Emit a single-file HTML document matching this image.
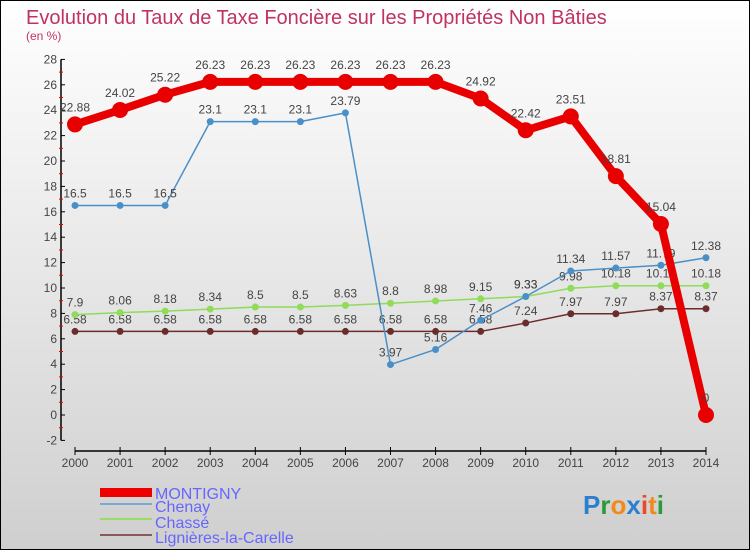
<!DOCTYPE html>
<html><head><meta charset="utf-8"><style>
body{margin:0;}
#c{width:750px;height:550px;position:relative;overflow:hidden;}
</style></head><body>
<div id="c">
<svg id="s" width="750" height="550" xmlns="http://www.w3.org/2000/svg" font-family="Liberation Sans, sans-serif">
<defs><linearGradient id="bg" x1="0" y1="0" x2="0" y2="1"><stop offset="0" stop-color="#ffffff"/><stop offset="1" stop-color="#cfcfcf"/></linearGradient></defs>
<rect x="0.5" y="0.5" width="749" height="549" fill="url(#bg)" stroke="#000"/>
<text x="26" y="24" font-size="20" fill="#c0335f">Evolution du Taux de Taxe Foncière sur les Propriétés Non Bâties</text>
<text x="26" y="40" font-size="12" fill="#c0335f">(en %)</text>
<g id="axes"></g>
<g id="series"></g>
<g>
<rect x="100" y="488" width="52" height="9" fill="#e00"/>
<text x="155" y="499" font-size="16" fill="#6666ff">MONTIGNY</text>
<rect x="100" y="503" width="52" height="2" fill="#7aa9d0"/>
<text x="155" y="512" font-size="16" fill="#6666ff">Chenay</text>
<rect x="100" y="518" width="52" height="2" fill="#99dd66"/>
<text x="155" y="528" font-size="16" fill="#6666ff">Chassé</text>
<rect x="100" y="534" width="52" height="2" fill="#8a5a5a"/>
<text x="155" y="543" font-size="16" fill="#6666ff">Lignières-la-Carelle</text>
</g>
<text x="583" y="514" font-size="26" font-weight="bold"><tspan fill="#2a7fd0">P</tspan><tspan fill="#2a9a3a">r</tspan><tspan fill="#f08a1a">o</tspan><tspan fill="#2a7fd0">x</tspan><tspan fill="#e84a2a">i</tspan><tspan fill="#f08a1a">t</tspan><tspan fill="#2a9a3a">i</tspan></text>
</svg>
</div>
<script>
const years=[2000,2001,2002,2003,2004,2005,2006,2007,2008,2009,2010,2011,2012,2013,2014];
const montigny=[22.88,24.02,25.22,26.23,26.23,26.23,26.23,26.23,26.23,24.92,22.42,23.51,18.81,15.04,0];
const chenay=[16.5,16.5,16.5,23.1,23.1,23.1,23.79,3.97,5.16,7.46,9.33,11.34,11.57,11.79,12.38];
const chasse=[7.9,8.06,8.18,8.34,8.5,8.5,8.63,8.8,8.98,9.15,9.33,9.98,10.18,10.18,10.18];
const lignieres=[6.58,6.58,6.58,6.58,6.58,6.58,6.58,6.58,6.58,6.58,7.24,7.97,7.97,8.37,8.37];
const yTicks=[-2,0,2,4,6,8,10,12,14,16,18,20,22,24,26,28];
const NS="http://www.w3.org/2000/svg";
function xs(i){return 75+i*(706-75)/(years.length-1);}
function ys(v){return 415-v*12.7;}
function mk(t,a,p){const e=document.createElementNS(NS,t);for(const k in a)e.setAttribute(k,a[k]);(p||document.getElementById('series')).appendChild(e);return e;}
const ax=document.getElementById('axes');
const yl=mk('line',{x1:61,y1:ys(28),x2:61,y2:ys(-2),stroke:'#000','stroke-width':1.5},ax);


yTicks.forEach(v=>{
 mk('line',{x1:61,y1:ys(v),x2:65,y2:ys(v),stroke:'#000'},ax);
 if(v<28) mk('line',{x1:59,y1:ys(v+1),x2:63,y2:ys(v+1),stroke:'#e00'},ax);
 const t=mk('text',{x:57,y:ys(v)+4,'font-size':12,fill:'#444','text-anchor':'end'},ax);t.textContent=v;
 
 
});
const xl=mk('line',{x1:75,y1:451,x2:706,y2:451,stroke:'#000','stroke-width':1.5},ax);


years.forEach((y,i)=>{
 mk('line',{x1:xs(i),y1:447,x2:xs(i),y2:455,stroke:'#000'},ax);
 const t=mk('text',{x:xs(i),y:467,'font-size':12,fill:'#444','text-anchor':'middle'},ax);t.textContent=y;
 
 
});
function series(d,name,color,w,r,lab){
 const g=mk('g',{});
 
 
 const p=mk('polyline',{points:d.map((v,i)=>xs(i)+','+ys(v)).join(' '),fill:'none',stroke:color,'stroke-width':w,'stroke-linejoin':'round'},g);
 
 
 d.forEach((v,i)=>{
  const c=mk('circle',{cx:xs(i),cy:ys(v),r:r,fill:color},g);
  
  
  const t=mk('text',{x:xs(i),y:ys(v)-lab,'font-size':12,fill:'#444','text-anchor':'middle'},g);t.textContent=v;
  
  
 });
}
series(lignieres,'lignieres','#6b2c2c',1.5,3.5,8);
series(chasse,'chasse','#8fdc5a',1.5,3.5,8);
series(chenay,'chenay','#4a90c8',1.5,3.5,8);
series(montigny,'montigny','#e80000',8,8,13);
</script>
</body></html>
